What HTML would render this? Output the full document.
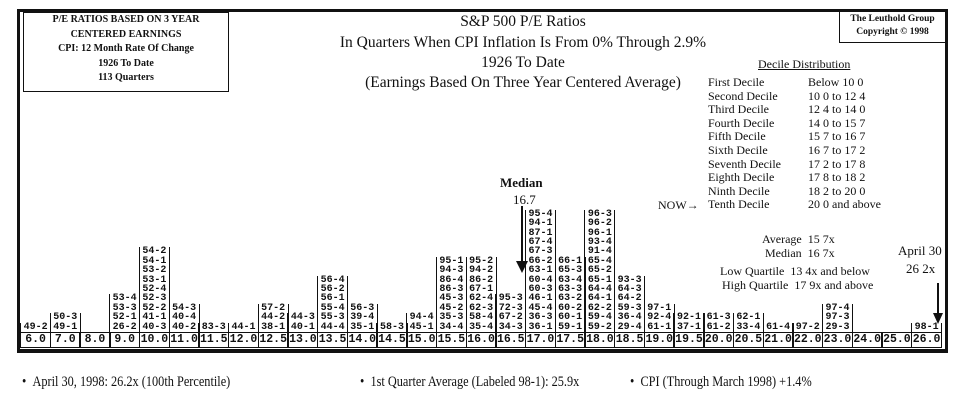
<!DOCTYPE html>
<html><head><meta charset="utf-8"><style>
body{margin:0;width:965px;height:404px;background:#fff;position:relative;overflow:hidden;font-family:"Liberation Serif",serif;color:#111}
.a{position:absolute;white-space:nowrap}
.frame{position:absolute;left:17px;top:9px;width:925px;height:337px;border:3px solid #111;border-bottom-width:4px}
.box{position:absolute;border:1.5px solid #111}
.col{position:absolute;border-left:1.5px solid #111;border-right:1.5px solid #111;font:bold 10px "Liberation Mono",monospace;line-height:9.4px;text-align:center;box-sizing:border-box}
.lab{position:absolute;top:332px;height:16px;border:1.5px solid #111;box-sizing:border-box;font:bold 11.5px "Liberation Mono",monospace;line-height:13px;text-align:center}
.t{font-size:15.5px;text-align:center;left:0;width:1046px}
.d{font-size:12px}
.fn{font-size:15px;transform:scaleX(0.82);transform-origin:left}
</style></head><body>
<div class="frame"></div>
<div class="box" style="left:23px;top:12px;width:204px;height:78px"></div>
<div class="a" style="left:23px;top:13px;width:206px;text-align:center;font-weight:bold;font-size:10px;line-height:14.5px">P/E RATIOS BASED ON 3 YEAR<br>CENTERED EARNINGS<br>CPI: 12 Month Rate Of Change<br>1926 To Date<br>113 Quarters</div>
<div class="box" style="left:839px;top:11px;width:105px;height:30px"></div>
<div class="a" style="left:839px;top:13px;width:107px;text-align:center;font-size:9.5px;font-weight:bold;line-height:13px">The Leuthold Group<br>Copyright © 1998</div>
<div class="a t" style="top:13px">S&amp;P 500 P/E Ratios</div>
<div class="a t" style="top:34px">In Quarters When CPI Inflation Is From 0% Through 2.9%</div>
<div class="a t" style="top:54px">1926 To Date</div>
<div class="a t" style="top:74px">(Earnings Based On Three Year Centered Average)</div>
<div class="a d" style="left:758px;top:57px;width:84px;text-align:center;text-decoration:underline">Decile Distribution</div>
<div class="a d" style="left:708px;top:76px;line-height:13.6px">First Decile<br>Second Decile<br>Third Decile<br>Fourth Decile<br>Fifth Decile<br>Sixth Decile<br>Seventh Decile<br>Eighth Decile<br>Ninth Decile<br>Tenth Decile</div>
<div class="a d" style="left:808px;top:76px;line-height:13.6px">Below 10 0<br>10 0 to 12 4<br>12 4 to 14 0<br>14 0 to 15 7<br>15 7 to 16 7<br>16 7 to 17 2<br>17 2 to 17 8<br>17 8 to 18 2<br>18 2 to 20 0<br>20 0 and above</div>
<div class="a d" style="left:658px;top:198px">NOW→</div>
<div class="a" style="left:500px;top:175px;font-size:13px;font-weight:bold">Median</div>
<div class="a" style="left:513px;top:192px;font-size:13px">16.7</div>
<div class="a" style="left:521px;top:206px;width:1.5px;height:56px;background:#111"></div>
<div class="a" style="left:516px;top:261px;width:0;height:0;border-left:6px solid transparent;border-right:6px solid transparent;border-top:12px solid #111"></div>
<div class="a d" style="left:762px;top:232px">Average &nbsp;15 7x</div>
<div class="a d" style="left:765px;top:246px">Median &nbsp;16 7x</div>
<div class="a d" style="left:720px;top:264px">Low Quartile &nbsp;13 4x and below</div>
<div class="a d" style="left:722px;top:278px">High Quartile &nbsp;17 9x and above</div>
<div class="a" style="left:898px;top:243px;font-size:13px">April 30</div>
<div class="a" style="left:906px;top:261px;font-size:13px">26 2x</div>
<div class="a" style="left:937px;top:283px;width:1.5px;height:32px;background:#111"></div>
<div class="a" style="left:933px;top:313px;width:0;height:0;border-left:5px solid transparent;border-right:5px solid transparent;border-top:11px solid #111"></div>
<div id="cols"></div>
<div class="a fn" style="left:22px;top:374px">• &nbsp;April 30, 1998: 26.2x (100th Percentile)</div>
<div class="a fn" style="left:360px;top:374px">• &nbsp;1st Quarter Average (Labeled 98-1): 25.9x</div>
<div class="a fn" style="left:630px;top:374px">• &nbsp;CPI (Through March 1998) +1.4%</div>
<script>
var L=["6.0","7.0","8.0","9.0","10.0","11.0","11.5","12.0","12.5","13.0","13.5","14.0","14.5","15.0","15.5","16.0","16.5","17.0","17.5","18.0","18.5","19.0","19.5","20.0","20.5","21.0","22.0","23.0","24.0","25.0","26.0"];
var D=[["49-2"],["50-3","49-1"],[],["53-4","53-3","52-1","26-2"],["54-2","54-1","53-2","53-1","52-4","52-3","52-2","41-1","40-3"],["54-3","40-4","40-2"],["83-3"],["44-1"],["57-2","44-2","38-1"],["44-3","40-1"],["56-4","56-2","56-1","55-4","55-3","44-4"],["56-3","39-4","35-1"],["58-3"],["94-4","45-1"],["95-1","94-3","86-4","86-3","45-3","45-2","35-3","34-4"],["95-2","94-2","86-2","67-1","62-4","62-3","58-4","35-4"],["95-3","72-3","67-2","34-3"],["95-4","94-1","87-1","67-4","67-3","66-2","63-1","60-4","60-3","46-1","45-4","36-3","36-1"],["66-1","65-3","63-4","63-3","63-2","60-2","60-1","59-1"],["96-3","96-2","96-1","93-4","91-4","65-4","65-2","65-1","64-4","64-1","62-2","59-4","59-2"],["93-3","64-3","64-2","59-3","36-4","29-4"],["97-1","92-4","61-1"],["92-1","37-1"],["61-3","61-2"],["62-1","33-4"],["61-4"],["97-2"],["97-4","97-3","29-3"],[],[],["98-1"]];
var h="",w=29.7;
for(var i=0;i<31;i++){var x=20+i*w;
h+='<div class="lab" style="left:'+x.toFixed(1)+'px;width:'+(w+1.5).toFixed(1)+'px">'+L[i]+'</div>';
var n=D[i].length;if(n){var hh=n*9.4;h+='<div class="col" style="left:'+x.toFixed(1)+'px;width:'+(w+1.5).toFixed(1)+'px;top:'+(332-hh).toFixed(1)+'px;height:'+hh.toFixed(1)+'px">'+D[i].join("<br>")+'</div>';}}
document.getElementById("cols").innerHTML=h;
</script>
</body></html>
